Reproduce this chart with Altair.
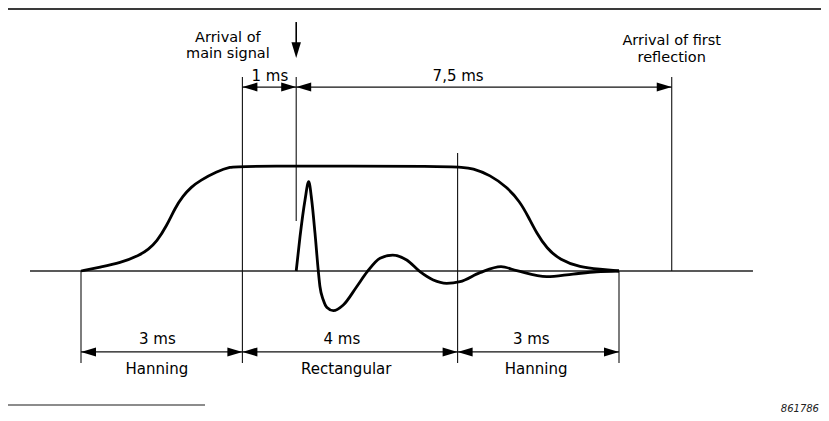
import altair as alt
import pandas as pd

# ---------------- data (time in ms, amplitude: window top = 1) -------------
window_ms = [0.0, 0.353, 0.725, 1.097, 1.25, 1.407, 1.593, 1.747, 1.896, 2.05, 2.212, 2.522,
             2.770, 3.0, 7.0, 7.292, 7.602, 7.912, 8.160, 8.314, 8.470, 8.656, 8.903, 9.275,
             9.647, 10.0]
window_amp = [0.0, 0.038, 0.076, 0.152, 0.205, 0.280, 0.430, 0.600, 0.715, 0.800, 0.862, 0.946,
              0.993, 1.0, 1.0, 0.978, 0.914, 0.803, 0.660, 0.517, 0.359, 0.216, 0.105, 0.035,
              0.016, 0.0]

pulse_ms = [4.0, 4.071, 4.164, 4.232, 4.288, 4.349, 4.411, 4.442, 4.504, 4.572, 4.690, 4.875,
            5.124, 5.321, 5.558, 5.794, 6.054, 6.301, 6.548, 6.797, 7.045, 7.416, 7.807, 8.099,
            8.656, 9.145, 9.585, 10.0]
pulse_amp = [0.0, 0.327, 0.676, 0.85, 0.676, 0.362, 0.0, -0.15, -0.276, -0.348, -0.378, -0.324,
             -0.15, -0.007, 0.121, 0.152, 0.105, -0.007, -0.086, -0.117, -0.102, -0.016, 0.041,
             0.003, -0.054, -0.029, -0.007, 0.0]

# vertical guide lines (as drawn; first reflection is not drawn to scale)
guide_ms = [0.0, 3.0, 4.0, 7.0, 10.0, 10.98]
guide_top = [0.0, 1.848, 1.848, 1.124, 0.0, 1.848]
guide_bottom = [-0.876, -0.876, 0.476, -0.876, -0.876, 0.0]

# dimension arrows
dim_start = [3.0, 4.0, 0.0, 3.0, 7.0]
dim_end = [4.0, 10.98, 3.0, 7.0, 10.0]
dim_level = [1.752, 1.752, -0.771, -0.771, -0.771]
dim_label = ["1 ms", "7,5 ms", "3 ms", "4 ms", "3 ms"]
dim_label_ms = [3.51, 7.01, 1.42, 4.85, 8.37]
dim_label_amp = [1.814, 1.814, -0.695, -0.695, -0.695]

# window names
win_label = ["Hanning", "Rectangular", "Hanning"]
win_label_ms = [1.41, 4.93, 8.46]
win_label_amp = [-0.981, -0.981, -0.981]

# headings
head_label = ["Arrival of", "main signal", "Arrival of first", "reflection"]
head_ms = [2.73, 2.73, 10.98, 10.98]
head_amp = [2.184, 2.026, 2.150, 1.990]

# main signal arrow
sig_ms = [4.0]
sig_shaft_top = [2.371]
sig_shaft_bottom = [2.08]
sig_tip = [2.029]

# baseline extent
base_ms = [-0.948, 12.49]

fig_number = "861786"

# ---------------- layout ----------------
W, H = 813, 405
PX_PER_MS = 53.8
X0 = 73.0          # plot x of t = 0
PX_PER_AMP = 105.0
Y0 = 263.0         # plot y of amplitude 0
x_dom = [-X0 / PX_PER_MS, (W - X0) / PX_PER_MS]
y_dom = [(Y0 - H) / PX_PER_AMP, Y0 / PX_PER_AMP]
xs = alt.Scale(domain=x_dom, nice=False, zero=False)
ys = alt.Scale(domain=y_dom, nice=False, zero=False)
FONT = "DejaVu Sans"

def X(f="x"):
    return alt.X(f"{f}:Q", scale=xs, axis=None)

def Y(f="y"):
    return alt.Y(f"{f}:Q", scale=ys, axis=None)

window_df = pd.DataFrame({"x": window_ms, "y": window_amp})
pulse_df = pd.DataFrame({"x": pulse_ms, "y": pulse_amp})
guide_df = pd.DataFrame({"x": guide_ms, "y": guide_top, "y2": guide_bottom})
dim_df = pd.DataFrame({"x": dim_start, "x2": dim_end, "y": dim_level})
left_heads = pd.DataFrame({"x": dim_start, "y": dim_level})
right_heads = pd.DataFrame({"x": dim_end, "y": dim_level})
dim_text_df = pd.DataFrame({"x": dim_label_ms, "y": dim_label_amp, "t": dim_label})
win_text_df = pd.DataFrame({"x": win_label_ms, "y": win_label_amp, "t": win_label})
head_df = pd.DataFrame({"x": head_ms, "y": head_amp, "t": head_label})
shaft_df = pd.DataFrame({"x": sig_ms, "y": sig_shaft_top, "y2": sig_shaft_bottom})
tip_df = pd.DataFrame({"x": sig_ms, "y": sig_tip})
base_df = pd.DataFrame({"x": [base_ms[0]], "x2": [base_ms[1]], "y": [0.0]})
frame_top = pd.DataFrame({"x": [x_dom[0]], "x2": [x_dom[1]], "y": [y_dom[1] - 1.0 / PX_PER_AMP]})
frame_bot = pd.DataFrame({"x": [x_dom[0]], "x2": [(205 - 8 - X0) / PX_PER_MS],
                          "y": [(Y0 - 397) / PX_PER_AMP]})
fig_df = pd.DataFrame({"x": [(819 - 8 - X0) / PX_PER_MS], "y": [(Y0 - 404) / PX_PER_AMP],
                       "t": [fig_number]})

text_kw = dict(font=FONT, fontSize=15, color="black", align="center", baseline="alphabetic")

layers = [
    alt.Chart(frame_top).mark_rule(color="#3a3a3a", strokeWidth=2).encode(x=X(), x2="x2", y=Y()),
    alt.Chart(frame_bot).mark_rule(color="#666666", strokeWidth=1.5).encode(x=X(), x2="x2", y=Y()),
    alt.Chart(base_df).mark_rule(color="#222222", strokeWidth=1.6).encode(x=X(), x2="x2", y=Y()),
    alt.Chart(guide_df).mark_rule(color="#111111", strokeWidth=1.1).encode(x=X(), y=Y(), y2="y2"),
    alt.Chart(dim_df).mark_rule(color="#111111", strokeWidth=1.2).encode(x=X(), x2="x2", y=Y()),
    alt.Chart(left_heads).mark_point(shape="M0,0L1,-0.3L1,0.3Z", size=900, filled=True,
                                     color="black", opacity=1, strokeWidth=0).encode(x=X(), y=Y()),
    alt.Chart(right_heads).mark_point(shape="M0,0L-1,-0.3L-1,0.3Z", size=900, filled=True,
                                      color="black", opacity=1, strokeWidth=0).encode(x=X(), y=Y()),
    alt.Chart(shaft_df).mark_rule(color="black", strokeWidth=1.6).encode(x=X(), y=Y(), y2="y2"),
    alt.Chart(tip_df).mark_point(shape="M0,0L-0.3,-1L0.3,-1Z", size=1000, filled=True,
                                 color="black", opacity=1, strokeWidth=0).encode(x=X(), y=Y()),
    alt.Chart(window_df).mark_line(color="black", strokeWidth=2.8, interpolate="basis",
                                   strokeJoin="round").encode(x=X(), y=Y()),
    alt.Chart(pulse_df).mark_line(color="black", strokeWidth=2.8, interpolate="monotone",
                                  strokeJoin="round").encode(x=X(), y=Y()),
    alt.Chart(dim_text_df).mark_text(**text_kw).encode(x=X(), y=Y(), text="t:N"),
    alt.Chart(win_text_df).mark_text(**text_kw).encode(x=X(), y=Y(), text="t:N"),
    alt.Chart(head_df).mark_text(font=FONT, fontSize=14.5, color="black", align="center",
                                 baseline="alphabetic").encode(x=X(), y=Y(), text="t:N"),
    alt.Chart(fig_df).mark_text(font=FONT, fontSize=10, fontStyle="italic", color="#222222",
                                align="right", baseline="alphabetic").encode(x=X(), y=Y(), text="t:N"),
]

chart = alt.layer(*layers).properties(
    width=W, height=H, padding=0, autosize=alt.AutoSizeParams(type="none")
).configure_view(stroke=None)

chart.save("out.html", embed_options={"renderer": "svg", "actions": False})
